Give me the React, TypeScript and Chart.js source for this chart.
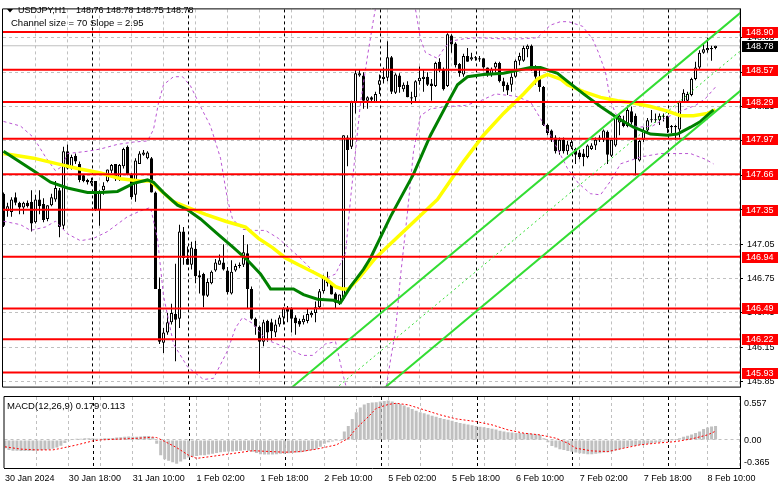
import React, { useEffect, useRef } from 'react';
import { Chart, registerables } from 'chart.js';

Chart.register(...registerables);

const FONT = '"Liberation Sans", Arial, sans-serif';
const GRID_COLOR = '#c0c0c0';

// ---- price data (H1 candles, index 0 = 30 Jan 02:00) ----
const OPEN = [147.49,147.34,147.33,147.46,147.41,147.37,147.41,147.42,147.24,147.44,
147.40,147.27,147.39,147.44,147.52,147.21,147.86,147.71,147.82,147.75,
147.65,147.61,147.58,147.60,147.35,147.52,147.60,147.69,147.75,147.63,
147.73,147.90,147.66,147.48,147.75,147.83,147.80,147.80,147.50,146.66,
146.19,146.28,146.37,146.44,146.40,147.16,146.92,146.87,147.01,146.78,
146.79,146.60,146.71,146.82,146.87,146.89,146.82,146.62,146.82,146.87,
146.87,146.97,146.66,146.40,146.33,146.20,146.38,146.37,146.28,146.35,
146.41,146.49,146.49,146.41,146.38,146.37,146.38,146.43,146.45,146.50,
146.64,146.75,146.71,146.62,146.53,146.57,147.98,147.90,148.29,148.52,
148.52,148.30,148.33,148.29,148.44,148.49,148.50,148.68,148.37,148.52,
148.40,148.44,148.33,148.33,148.47,148.49,148.51,148.45,148.43,148.64,
148.57,148.43,148.87,148.80,148.62,148.53,148.69,148.66,148.68,148.67,
148.67,148.59,148.53,148.59,148.63,148.47,148.44,148.44,148.51,148.65,
148.65,148.75,148.78,148.59,148.51,148.42,148.09,148.04,147.98,147.86,
147.96,147.86,147.90,147.88,147.85,147.84,147.81,147.88,147.91,147.96,
147.96,148.03,147.82,147.91,148.11,148.13,148.08,148.21,148.17,147.78,
147.96,148.04,148.13,148.13,148.13,148.16,148.17,148.08,148.08,148.05,
148.29,148.30,148.35,148.49,148.59,148.72,148.74,148.75,148.76];

const HIGH = [147.50,147.41,147.46,147.50,147.42,147.42,147.43,147.52,147.48,147.52,
147.45,147.39,147.49,147.60,147.54,147.90,147.92,147.83,147.84,147.77,
147.66,147.62,147.63,147.60,147.52,147.59,147.70,147.75,147.75,147.75,
147.89,147.91,147.67,147.80,147.86,147.87,147.86,147.81,147.51,146.76,
146.32,146.45,146.53,146.88,147.22,147.20,147.03,147.07,147.08,146.82,
146.80,146.75,146.82,146.92,146.96,147.05,146.85,146.91,146.88,146.89,
147.13,147.05,146.68,146.41,146.34,146.39,146.39,146.40,146.39,146.43,
146.50,146.51,146.50,146.43,146.40,146.43,146.49,146.47,146.55,146.66,
146.78,146.81,146.71,146.63,146.61,148.00,148.00,148.30,148.57,148.57,
148.55,148.34,148.34,148.38,148.53,148.59,148.82,148.69,148.54,148.54,
148.46,148.47,148.38,148.48,148.60,148.57,148.55,148.49,148.64,148.67,
148.59,148.89,148.88,148.81,148.63,148.71,148.76,148.72,148.69,148.69,
148.67,148.59,148.59,148.64,148.64,148.50,148.46,148.54,148.66,148.72,
148.78,148.79,148.79,148.61,148.59,148.43,148.10,148.05,148.00,147.98,
147.98,147.95,147.96,147.89,147.87,147.88,147.92,147.93,147.98,148.00,
148.05,148.04,147.96,148.17,148.19,148.17,148.26,148.25,148.19,147.96,
148.07,148.15,148.22,148.19,148.19,148.19,148.17,148.09,148.09,148.30,
148.40,148.38,148.50,148.64,148.74,148.80,148.85,148.78,148.78];

const LOW = [147.20,147.29,147.29,147.39,147.31,147.31,147.37,147.16,147.23,147.31,
147.24,147.25,147.38,147.42,147.11,147.18,147.70,147.70,147.75,147.59,
147.59,147.57,147.56,147.34,147.21,147.48,147.59,147.67,147.60,147.60,
147.71,147.65,147.44,147.42,147.75,147.82,147.79,147.50,146.66,146.18,
146.10,146.26,146.35,146.03,146.32,146.87,146.87,146.83,146.71,146.62,
146.50,146.59,146.70,146.81,146.87,146.82,146.61,146.61,146.81,146.84,
146.85,146.49,146.39,146.26,145.92,146.16,146.20,146.21,146.24,146.33,
146.35,146.37,146.28,146.26,146.33,146.35,146.36,146.41,146.37,146.49,
146.62,146.68,146.61,146.49,146.52,146.56,147.73,147.88,148.19,148.51,
148.23,148.23,148.29,148.28,148.36,148.45,148.47,148.36,148.36,148.37,
148.38,148.33,148.27,148.28,148.44,148.38,148.43,148.30,148.42,148.55,
148.39,148.42,148.72,148.59,148.51,148.51,148.64,148.65,148.65,148.64,
148.58,148.51,148.51,148.55,148.46,148.38,148.35,148.38,148.50,148.61,
148.64,148.68,148.56,148.44,148.38,148.08,148.00,147.94,147.84,147.83,
147.84,147.83,147.88,147.75,147.79,147.73,147.80,147.87,147.87,147.94,
147.94,147.75,147.81,147.90,148.00,148.07,148.07,148.09,147.65,147.77,
147.94,148.02,148.11,148.11,148.09,148.12,148.02,148.02,147.96,147.98,
148.28,148.28,148.34,148.48,148.57,148.71,148.72,148.65,148.75];

const CLOSE = [147.21,147.38,147.44,147.41,147.37,147.41,147.38,147.23,147.44,147.38,
147.26,147.39,147.46,147.54,147.20,147.86,147.71,147.81,147.77,147.61,
147.60,147.59,147.60,147.35,147.51,147.56,147.70,147.74,147.62,147.74,
147.88,147.66,147.46,147.78,147.84,147.85,147.85,147.50,146.66,146.20,
146.28,146.37,146.45,146.39,147.16,146.93,146.87,147.02,146.77,146.76,
146.60,146.72,146.81,146.89,146.91,146.83,146.63,146.81,146.86,146.86,
146.98,146.66,146.40,146.33,146.20,146.37,146.28,146.29,146.35,146.41,
146.49,146.46,146.40,146.36,146.35,146.40,146.44,146.45,146.50,146.64,
146.76,146.71,146.61,146.54,146.61,148.00,147.87,148.29,148.54,148.54,
148.30,148.33,148.31,148.36,148.48,148.51,148.68,148.38,148.53,148.42,
148.44,148.33,148.32,148.47,148.50,148.51,148.44,148.43,148.63,148.57,
148.40,148.88,148.79,148.61,148.54,148.69,148.64,148.68,148.67,148.66,
148.59,148.53,148.58,148.63,148.47,148.43,148.39,148.51,148.65,148.69,
148.76,148.78,148.59,148.51,148.42,148.09,148.02,147.96,147.86,147.96,
147.86,147.92,147.94,147.83,147.81,147.81,147.91,147.91,147.96,147.98,
148.04,147.83,147.96,148.17,148.17,148.08,148.22,148.11,147.79,147.95,
148.04,148.13,148.14,148.14,148.17,148.17,148.06,148.07,148.07,148.29,
148.37,148.36,148.49,148.59,148.72,148.75,148.76,148.76,148.78];

// moving averages [barIndex, price]
const MA_GREEN = [[0,147.86],[7.5,147.69],[11.75,147.59],[16,147.54],[21,147.50],[24.25,147.50],[28.5,147.51],[32.5,147.58],[36,147.61],[37.5,147.59],[40,147.50],[43.5,147.39],[46,147.35],[49.25,147.27],[53.5,147.14],[57.5,147.02],[61,146.91],[64.25,146.79],[66.75,146.66],[69.25,146.66],[72.5,146.66],[75,146.61],[78.5,146.57],[82.5,146.56],[84.25,146.54],[86.75,146.68],[90,146.83],[91.75,146.93],[96.75,147.29],[102.5,147.66],[106.75,148.00],[111,148.28],[113.5,148.44],[116,148.51],[120,148.53],[125,148.54],[131.75,148.59],[134.25,148.59],[138.5,148.54],[141,148.47],[145,148.36],[149.25,148.25],[153.5,148.15],[157.5,148.07],[161.75,148.01],[166,148.00],[168.5,148.01],[171.75,148.07],[174.25,148.12],[177.5,148.22]];
const MA_YELLOW = [[0,147.84],[7.5,147.80],[13.5,147.75],[18.5,147.71],[24.25,147.67],[29.25,147.62],[34.25,147.60],[36.75,147.60],[39.25,147.52],[42.5,147.42],[46,147.37],[50.5,147.31],[55.5,147.25],[60.5,147.20],[63.75,147.10],[67.25,147.02],[70.5,146.93],[73.75,146.87],[77.25,146.81],[80.5,146.75],[83,146.68],[84.75,146.66],[86.25,146.66],[88.75,146.75],[93,146.93],[100,147.16],[108.5,147.44],[115,147.77],[120,148.00],[125,148.19],[130,148.36],[133.5,148.49],[136,148.53],[139.25,148.49],[141,148.44],[145,148.38],[149.25,148.33],[153.5,148.30],[157.5,148.28],[161.75,148.25],[166,148.21],[169.25,148.17],[172.5,148.17],[176,148.19],[178,148.22]];

// bands (purple dashed)
const BAND_UP_A = [[0,148.12],[4.25,148.08],[7.5,147.98],[10.5,147.81],[13,147.69],[14.75,147.73],[16,147.84],[21,147.86],[24.25,147.88],[28.5,147.92],[32.5,147.94],[36,147.95],[37.5,148.05],[38.75,148.28],[40,148.44],[42.5,148.51],[44.75,148.51],[46.75,148.43],[49.25,148.25],[51.75,148.08],[54.25,147.80],[56,147.44],[57.25,147.27],[59.75,147.18],[62.25,147.17],[65.5,147.17],[68.75,147.10],[72.25,146.99],[74.75,146.91],[77.25,146.82],[80.5,146.75],[83,146.79],[85.5,146.97],[86.75,147.44],[88,147.86],[89.25,148.28],[91,148.69],[92.5,149.01],[93.5,149.20]];
const BAND_UP_B = [[102.5,149.20],[104.25,148.84],[105.5,148.72],[108.5,148.67],[110,148.75],[111.75,148.82],[115,148.84],[118.5,148.85],[125,148.84],[129.25,148.84],[133.5,148.85],[136.75,148.96],[139.25,148.99],[141.25,148.99],[144.75,148.95],[147.25,148.84],[148.75,148.72],[150.5,148.55],[151.75,148.30],[153,148.19],[155.5,148.11],[158.75,148.07],[162.25,148.08],[165.5,148.15],[169.25,148.21],[173,148.26],[175.5,148.32],[178,148.42]];
const BAND_LO_A = [[0,147.25],[4.25,147.22],[6.75,147.17],[10.5,147.20],[13,147.25],[16,147.14],[19.25,147.08],[22.5,147.10],[26,147.16],[31,147.29],[34.25,147.34],[36.75,147.37],[38.5,147.10],[40,146.60],[42.5,146.18],[46,145.98],[50,145.87],[52.5,145.88],[56,146.12],[58,146.32],[59.75,146.41],[62.25,146.36],[65.5,146.22],[70.5,146.15],[74.75,146.08],[77.25,146.08],[80.5,146.18],[83,146.20],[84.75,145.93],[86,145.76]];
const BAND_LO_B = [[95.5,145.76],[96.75,146.04],[98,146.29],[99.25,146.77],[101,147.33],[102.5,147.86],[104.25,148.17],[106.75,148.23],[111,148.25],[115.5,148.26],[119.25,148.30],[123,148.36],[128,148.34],[131.75,148.29],[136.75,148.00],[141,147.71],[143.75,147.58],[146.75,147.49],[149.25,147.48],[151.75,147.60],[154.25,147.75],[159.25,147.81],[164.25,147.84],[171.75,147.84],[175.5,147.79],[177.5,147.75]];

// regression channel
const CH_UPPER = [[70,145.74],[185,149.09]];
const CH_MIDDLE = [[82,145.76],[184,148.73]];
const CH_LOWER = [[94,145.76],[185,148.41]];

const LEVELS = [148.90, 148.57, 148.29, 147.97, 147.66, 147.35, 146.94, 146.49, 146.22, 145.93];
const CURRENT = 148.78;
const Y_TICKS = [145.85, 146.15, 146.45, 146.75, 147.05, 147.35, 147.65, 147.95, 148.25, 148.55, 148.85];

// MACD
const MACD_HIST = [
-0.11,-0.13,-0.14,-0.14,-0.145,-0.145,-0.145,-0.145,-0.14,-0.135,
-0.13,-0.125,-0.115,-0.10,-0.075,-0.04,-0.01,0.01,0.015,0.015,
0.02,0.02,0.02,0.015,0.015,0.02,0.02,0.025,0.03,0.035,
0.04,0.045,0.04,0.04,0.045,0.05,0.05,0.035,-0.05,-0.20,
-0.25,-0.27,-0.29,-0.31,-0.28,-0.25,-0.23,-0.22,-0.21,-0.20,
-0.20,-0.19,-0.18,-0.17,-0.16,-0.155,-0.15,-0.15,-0.145,-0.14,
-0.135,-0.14,-0.155,-0.17,-0.185,-0.19,-0.19,-0.19,-0.185,-0.18,
-0.18,-0.175,-0.17,-0.165,-0.16,-0.15,-0.14,-0.13,-0.115,-0.09,
-0.05,-0.03,-0.02,-0.015,-0.015,0.11,0.18,0.27,0.36,0.42,
0.46,0.48,0.485,0.49,0.50,0.505,0.51,0.50,0.48,0.465,
0.445,0.425,0.40,0.38,0.36,0.345,0.33,0.315,0.30,0.283,
0.27,0.26,0.25,0.232,0.22,0.21,0.20,0.19,0.18,0.17,
0.165,0.155,0.145,0.135,0.12,0.11,0.10,0.095,0.09,0.09,
0.087,0.085,0.08,0.072,0.065,0.02,-0.03,-0.08,-0.10,-0.12,
-0.13,-0.145,-0.155,-0.165,-0.175,-0.18,-0.185,-0.185,-0.18,-0.175,
-0.165,-0.16,-0.15,-0.135,-0.12,-0.105,-0.09,-0.08,-0.075,-0.065,
-0.06,-0.05,-0.045,-0.035,-0.03,-0.02,-0.01,-0.005,0.01,0.02,
0.04,0.055,0.07,0.09,0.11,0.14,0.16,0.175,0.179];
const MACD_SIGNAL = [[0,-0.09],[4,-0.12],[8,-0.13],[12,-0.13],[14,-0.11],[18,-0.065],[22,-0.013],[24,0],[33,0.02],[37,0.035],[38,0.03],[40,-0.02],[43,-0.10],[46,-0.20],[48,-0.24],[51,-0.22],[58,-0.17],[62,-0.14],[66,-0.15],[70,-0.16],[74,-0.152],[78,-0.12],[83,-0.065],[86,0.02],[88,0.15],[91,0.30],[93,0.41],[96,0.46],[98,0.476],[101,0.455],[105,0.39],[109,0.325],[113,0.273],[118,0.238],[122,0.195],[126,0.13],[130,0.087],[134,0.065],[138,0.022],[141,-0.043],[143,-0.108],[147,-0.143],[151,-0.152],[155,-0.108],[159,-0.065],[163,-0.043],[168,-0.022],[172,0.013],[176,0.065],[178,0.113]];
const MACD_TICKS = [-0.365, 0, 0.557];

// time axis
const X_TICKS = [0, 16, 32, 48, 64, 80, 96, 112, 128, 144, 160, 176];
const X_LABELS = ['30 Jan 2024', '30 Jan 18:00', '31 Jan 10:00', '1 Feb 02:00', '1 Feb 18:00', '2 Feb 10:00',
  '5 Feb 02:00', '5 Feb 18:00', '6 Feb 10:00', '7 Feb 02:00', '7 Feb 18:00', '8 Feb 10:00'];
const DAY_SEPARATORS = [22.25, 46.25, 70.25, 94.25, 118.25, 142.25, 166.25];
const GRID_STEP = 8;

const TITLE = 'USDJPY,H1';
const TITLE_VALUES = '148.76 148.78 148.75 148.78';
const CHANNEL_TEXT = 'Channel size = 70 Slope = 2.95';
const MACD_TEXT = 'MACD(12,26,9) 0.179 0.113';

const X_MIN = -0.125;
const X_MAX = 184.125;
const PRICE_MIN = 145.808;
const PRICE_MAX = 149.097;
const MACD_TOP = 396;

const toXY = (a: number[][]) => a.map(([x, y]) => ({ x, y }));

function dashedLine(ctx: CanvasRenderingContext2D, x1: number, y1: number, x2: number, y2: number, color: string) {
  ctx.save();
  ctx.lineWidth = 1;
  ctx.setLineDash([3, 3]);
  ctx.strokeStyle = color;
  ctx.beginPath();
  ctx.moveTo(x1, y1);
  ctx.lineTo(x2, y2);
  ctx.stroke();
  ctx.restore();
}

// grid layer painted on a background canvas from the charts' own scales
function paintGrid(ctx: CanvasRenderingContext2D, chart: any, dy: number, hValues: number[]) {
  const a = chart.chartArea;
  const xs = chart.scales.x;
  const ys = chart.scales.y;
  for (const v of hValues) {
    const y = Math.floor(ys.getPixelForValue(v)) + 0.5 + dy;
    dashedLine(ctx, a.left, y, a.right, y, GRID_COLOR);
  }
  for (let v = GRID_STEP; v < X_MAX; v += GRID_STEP) {
    const x = Math.floor(xs.getPixelForValue(v)) + 0.5;
    dashedLine(ctx, x, a.top + dy, x, a.bottom + dy, GRID_COLOR);
  }
  for (const v of DAY_SEPARATORS) {
    const x = Math.floor(xs.getPixelForValue(v)) + 0.5;
    dashedLine(ctx, x, a.top + dy, x, a.bottom + dy, '#000000');
  }
}

const lineDs = (data: number[][], color: string, width: number, order: number, dash: number[] = []) => ({
  type: 'line' as const,
  data: toXY(data),
  borderColor: color,
  borderWidth: width,
  borderDash: dash,
  pointRadius: 0,
  tension: 0,
  fill: false,
  order,
});

export default function App() {
  const bgRef = useRef<HTMLCanvasElement>(null);
  const mainRef = useRef<HTMLCanvasElement>(null);
  const macdRef = useRef<HTMLCanvasElement>(null);

  useEffect(() => {
    const mainDecor = {
      id: 'mainDecor',
      afterDraw(chart: any) {
        const { ctx, chartArea: a, scales } = chart;
        ctx.save();
        ctx.strokeStyle = '#000';
        ctx.lineWidth = 1;
        ctx.setLineDash([]);
        ctx.beginPath();
        ctx.moveTo(a.left - 0.5, a.bottom + 0.5);
        ctx.lineTo(a.left - 0.5, a.top - 0.5);
        ctx.lineTo(a.right + 1, a.top - 0.5);
        ctx.moveTo(a.left - 0.5, a.bottom + 0.5);
        ctx.lineTo(a.right + 1, a.bottom + 0.5);
        ctx.stroke();
        ctx.font = `9px ${FONT}`;
        ctx.textBaseline = 'middle';
        ctx.textAlign = 'left';
        const box = (v: number, bg: string) => {
          const y = Math.round(scales.y.getPixelForValue(v));
          ctx.fillStyle = bg;
          ctx.fillRect(a.right + 2, y - 5, 36, 11);
          ctx.fillStyle = '#fff';
          ctx.fillText(v.toFixed(2), a.right + 6, y + 0.5);
        };
        LEVELS.forEach((v) => box(v, '#ff0000'));
        box(CURRENT, '#000');
        // title
        ctx.fillStyle = '#000';
        ctx.beginPath();
        ctx.moveTo(7, 9); ctx.lineTo(13, 9); ctx.lineTo(10, 12.5); ctx.closePath(); ctx.fill();
        ctx.font = `9px ${FONT}`;
        ctx.fillText(TITLE, 18, 10.5);
        ctx.fillText(TITLE_VALUES, 76, 10.5);
        ctx.font = `9.5px ${FONT}`;
        ctx.fillText(CHANNEL_TEXT, 11, 23.5);
        ctx.restore();
      },
    };

    const macdDecor = {
      id: 'macdDecor',
      afterDraw(chart: any) {
        const { ctx, chartArea: a, scales } = chart;
        ctx.save();
        ctx.strokeStyle = '#000';
        ctx.lineWidth = 1;
        ctx.beginPath();
        ctx.moveTo(a.left - 0.5, a.bottom);
        ctx.lineTo(a.left - 0.5, a.top - 0.5);
        ctx.lineTo(a.right + 1, a.top - 0.5);
        ctx.stroke();
        ctx.font = `9px ${FONT}`;
        ctx.textBaseline = 'middle';
        ctx.fillStyle = '#000';
        MACD_TICKS.forEach((v) => {
          let y = scales.y.getPixelForValue(v);
          y = Math.min(Math.max(y, a.top + 6), a.bottom - 6);
          ctx.fillText(v === 0 ? '0.00' : v.toFixed(3), a.right + 4, y + 0.5);
        });
        ctx.font = `9.5px ${FONT}`;
        ctx.fillText(MACD_TEXT, 7, a.top + 9);
        ctx.restore();
      },
    };

    const main = new Chart(mainRef.current as HTMLCanvasElement, {
      type: 'bar',
      data: {
        datasets: [
          lineDs([[X_MIN, CURRENT], [X_MAX, CURRENT]], '#c0c0c0', 1, 30),
          {
            type: 'bar',
            data: HIGH.map((h, i) => ({ x: i, y: [LOW[i], h] })),
            backgroundColor: '#000',
            borderWidth: 0,
            barThickness: 1,
            grouped: false,
            inflateAmount: 0,
            order: 25,
          } as any,
          {
            type: 'bar',
            data: OPEN.map((o, i) => ({ x: i, y: [o, CLOSE[i]] })),
            backgroundColor: (c: any) => (CLOSE[c.dataIndex] >= OPEN[c.dataIndex] ? '#ffffff' : '#000000'),
            borderColor: '#000',
            borderWidth: 1,
            borderSkipped: false,
            barThickness: 3,
            minBarLength: 1,
            grouped: false,
            inflateAmount: 0,
            order: 24,
          } as any,
          lineDs(BAND_UP_A, '#ba55d3', 1, 20, [3, 3]),
          lineDs(BAND_UP_B, '#ba55d3', 1, 20, [3, 3]),
          lineDs(BAND_LO_A, '#ba55d3', 1, 20, [3, 3]),
          lineDs(BAND_LO_B, '#ba55d3', 1, 20, [3, 3]),
          lineDs(MA_YELLOW, '#ffff00', 3.5, 15),
          lineDs(MA_GREEN, '#008000', 3, 14),
          ...LEVELS.map((v) => lineDs([[X_MIN, v], [X_MAX, v]], '#ff0000', 2, 10)),
          lineDs(CH_MIDDLE, '#33dd33', 1, 5, [2, 3]),
          lineDs(CH_UPPER, '#33dd33', 2, 4),
          lineDs(CH_LOWER, '#33dd33', 2, 4),
        ] as any,
      },
      options: {
        responsive: false,
        animation: false,
        devicePixelRatio: 1,
        events: [],
        layout: { padding: { left: 3, top: 2, right: 0, bottom: 2 } },
        plugins: { legend: { display: false }, tooltip: { enabled: false } },
        scales: {
          x: { type: 'linear', display: false, min: X_MIN, max: X_MAX, offset: false },
          y: {
            type: 'linear',
            position: 'right',
            min: PRICE_MIN,
            max: PRICE_MAX,
            afterBuildTicks: (s: any) => { s.ticks = Y_TICKS.map((v) => ({ value: v })); },
            afterFit: (s: any) => { s.width = 41; },
            grid: { drawOnChartArea: false, drawTicks: true, tickLength: 3, tickColor: '#000', tickWidth: 1 },
            border: { display: true, color: '#000', width: 1 },
            ticks: {
              color: '#000',
              padding: 4,
              font: { family: FONT, size: 9 },
              callback: (v: any) => Number(v).toFixed(2),
            },
          },
        } as any,
      },
      plugins: [mainDecor],
    } as any);

    const macd = new Chart(macdRef.current as HTMLCanvasElement, {
      type: 'bar',
      data: {
        datasets: [
          {
            type: 'bar',
            data: MACD_HIST.map((v, i) => ({ x: i, y: v })),
            backgroundColor: '#c0c0c0',
            borderWidth: 0,
            barThickness: 3,
            grouped: false,
            inflateAmount: 0,
            order: 5,
          } as any,
          lineDs(MACD_SIGNAL, '#ff0000', 1, 1, [2, 2]),
        ] as any,
      },
      options: {
        responsive: false,
        animation: false,
        devicePixelRatio: 1,
        events: [],
        layout: { padding: { left: 3, top: 1, right: 0, bottom: 0 } },
        plugins: { legend: { display: false }, tooltip: { enabled: false } },
        scales: {
          x: {
            type: 'linear',
            min: X_MIN,
            max: X_MAX,
            offset: false,
            afterBuildTicks: (s: any) => { s.ticks = X_TICKS.map((v) => ({ value: v })); },
            afterFit: (s: any) => { s.height = 21; },
            grid: { display: false, drawTicks: false },
            border: { display: true, color: '#000', width: 1 },
            ticks: {
              autoSkip: false,
              maxRotation: 0,
              minRotation: 0,
              align: 'start',
              padding: 5,
              color: '#000',
              font: { family: FONT, size: 9 },
              callback: (v: any) => X_LABELS[X_TICKS.indexOf(Number(v))] ?? '',
            },
          },
          y: {
            type: 'linear',
            position: 'right',
            min: MACD_TICKS[0],
            max: MACD_TICKS[2],
            afterBuildTicks: (s: any) => { s.ticks = MACD_TICKS.map((v) => ({ value: v })); },
            afterFit: (s: any) => { s.width = 41; },
            grid: { drawOnChartArea: false, drawTicks: false },
            border: { display: true, color: '#000', width: 1 },
            ticks: { display: false },
          },
        } as any,
      },
      plugins: [macdDecor],
    } as any);

    const bg = (bgRef.current as HTMLCanvasElement).getContext('2d') as CanvasRenderingContext2D;
    bg.clearRect(0, 0, 781, 489);
    paintGrid(bg, main, 0, Y_TICKS);
    paintGrid(bg, macd, MACD_TOP, [0]);

    return () => {
      main.destroy();
      macd.destroy();
    };
  }, []);

  return (
    <div style={{ position: 'absolute', left: 0, top: 0, width: 781, height: 489, background: '#fff', overflow: 'hidden' }}>
      <canvas ref={bgRef} width={781} height={489} style={{ position: 'absolute', left: 0, top: 0 }} />
      <canvas ref={mainRef} width={781} height={396} style={{ position: 'absolute', left: 0, top: 0 }} />
      <canvas ref={macdRef} width={781} height={93} style={{ position: 'absolute', left: 0, top: MACD_TOP }} />
    </div>
  );
}
